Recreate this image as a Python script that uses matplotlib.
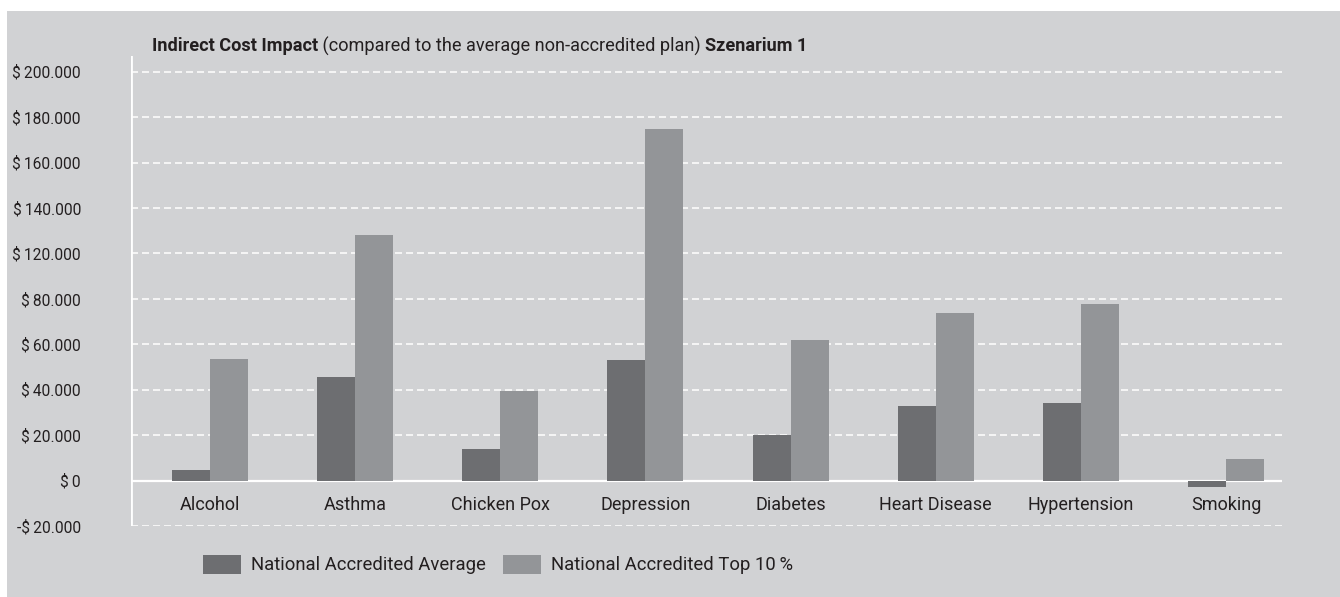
import numpy as np
import matplotlib
matplotlib.use("Agg")
import matplotlib.pyplot as plt
from matplotlib.patches import Rectangle, Patch

# Data (in the axis' linear units)
categories = ["Alcohol", "Asthma", "Chicken Pox", "Depression",
              "Diabetes", "Heart Disease", "Hypertension", "Smoking"]
avg_values = [4700, 45600, 13900, 53000, 20100, 32900, 34200, -2800]
top10_values = [53300, 108000, 39500, 154800, 61900, 73800, 77800, 9500]

# tick positions and the labels printed on them (original skips $100.000)
tick_values = [-20000, 0, 20000, 40000, 60000, 80000, 100000, 120000, 140000, 160000, 180000]
tick_labels = ["-$\u200920.000", "$\u20090", "$\u200920.000", "$\u200940.000", "$\u200960.000",
               "$\u200980.000", "$\u2009120.000", "$\u2009140.000", "$\u2009160.000",
               "$\u2009180.000", "$\u2009200.000"]
series_names = ["National Accredited Average", "National Accredited Top 10\u2009%"]

BG = "#d1d2d4"
DARK = "#6d6e71"
LIGHT = "#939598"
TXT = "#231f20"
plt.rcParams["font.family"] = ["Roboto", "DejaVu Sans"]

W, H = 1340, 597
fig = plt.figure(figsize=(W / 100, H / 100), dpi=100)
fig.patch.set_facecolor("white")
fig.patches.append(Rectangle((7 / W, 0), 1, (H - 11) / H, transform=fig.transFigure,
                             facecolor=BG, edgecolor="none", zorder=-10))

ax = fig.add_axes([131 / W, (H - 526) / H, (1282 - 131) / W, (526 - 56) / H])
ax.set_facecolor("none")

x = np.arange(len(categories))
w = 0.262
ax.bar(x - w / 2, avg_values, w, color=DARK, zorder=3, label=series_names[0])
ax.bar(x + w / 2, top10_values, w, color=LIGHT, zorder=3, label=series_names[1])

ax.set_xlim(-0.544, 7.386)
ax.set_ylim(-20000, 186900)

for v in tick_values:
    if v == 0:
        ax.axhline(v, color="white", lw=1.6, zorder=2)
    else:
        ax.axhline(v, color="white", lw=1.1, ls=(0, (4.6, 2.6)), zorder=1)

for s in ax.spines.values():
    s.set_visible(False)
ax.axvline(-0.544, color="white", lw=2, zorder=2)

ax.set_xticks([])
ax.set_yticks(tick_values)
ax.set_yticklabels(tick_labels)
ax.tick_params(axis="y", length=0, pad=36, labelsize=11.2, labelcolor=TXT)

for i, c in enumerate(categories):
    ax.text(i, -10700, c, ha="center", va="center", fontsize=13, color=TXT)

# title in three pieces (bold / regular / bold)
renderer = fig.canvas.get_renderer()
tx, ty = 152 / W, 1 - 46 / H
parts = [("Indirect Cost Impact", "bold"),
         (" (compared to the average non-accredited plan) ", "normal"),
         ("Szenarium 1", "bold")]
for txt, wt in parts:
    t = fig.text(tx, ty, txt, fontsize=13.1, fontweight=wt, color=TXT, va="center", ha="left")
    bb = t.get_window_extent(renderer=renderer)
    tx += bb.width / W

handles = [Patch(facecolor=DARK, edgecolor="none"), Patch(facecolor=LIGHT, edgecolor="none")]
fig.legend(handles, series_names, loc="center left", bbox_to_anchor=(203 / W, 1 - 564.5 / H),
           ncol=2, frameon=False, fontsize=13.3, labelcolor=TXT, borderpad=0, borderaxespad=0,
           handlelength=2.05, handleheight=1.25, handletextpad=0.55, columnspacing=0.95)

fig.savefig("out.png", dpi=100)
